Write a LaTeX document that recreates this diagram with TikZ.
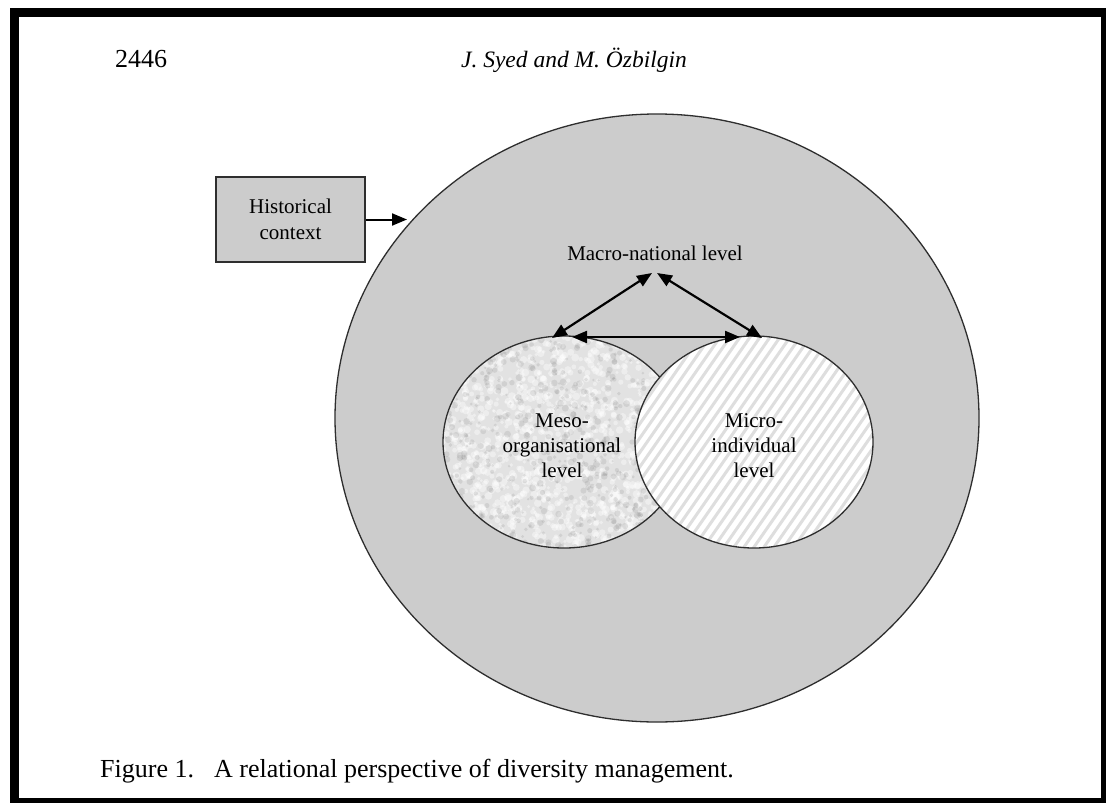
\documentclass[tikz,border=0pt]{standalone}
\usepackage{fontspec}
\setmainfont{Liberation Serif}
\usetikzlibrary{arrows.meta}

\definecolor{panel}{HTML}{CCCCCC}
\definecolor{edge}{HTML}{2E2E2E}
\definecolor{stripe}{HTML}{DEDEDE}
\definecolor{mottle}{HTML}{E2E2E2}

\tikzset{
  outline/.style={draw=edge, line width=1.3pt},
  link/.style={line width=2.2pt, {Triangle[length=15pt,width=12pt]}-{Triangle[length=15pt,width=12pt]}},
  push/.style={line width=2pt, -{Triangle[length=15pt,width=12pt]}},
  label/.style={inner sep=0pt, font=\fontsize{21}{25}\selectfont, align=center},
}

\begin{document}
\begin{tikzpicture}[x=1pt, y=-1pt]
  \useasboundingbox (0,0) rectangle (1106,803);

  % page frame
  \fill[black] (10,8) rectangle (1106,803);
  \fill[white] (19,17) rectangle (1101,798);

  % running head
  \node[anchor=base west, inner sep=0pt, font=\fontsize{26}{30}\selectfont] (page) at (115,67) {2446};
  \node[anchor=base, inner sep=0pt, font=\fontsize{23.5}{28}\selectfont\itshape] (authors) at (574,67) {J. Syed and M. Özbilgin};

  % outer macro circle
  \draw[outline, fill=panel] (657,418) ellipse [x radius=322, y radius=304];

  % meso ellipse with mottled texture
  \begin{scope}
    \clip (564,442) ellipse [x radius=121, y radius=106];
    \fill[mottle] (440,330) rectangle (690,555);
    \pgfmathsetseed{4217}
    \foreach \i in {1,...,1400} {
      \pgfmathsetmacro{\px}{564+125*rand}
      \pgfmathsetmacro{\py}{442+110*rand}
      \pgfmathsetmacro{\pr}{1.5+2.5*rnd}
      \fill[white, opacity=0.4] (\px,\py) circle [radius=\pr];
    }
    \foreach \i in {1,...,700} {
      \pgfmathsetmacro{\px}{564+125*rand}
      \pgfmathsetmacro{\py}{442+110*rand}
      \pgfmathsetmacro{\pr}{1.2+2.3*rnd}
      \fill[gray, opacity=0.18] (\px,\py) circle [radius=\pr];
    }
  \end{scope}
  \draw[outline] (564,442) ellipse [x radius=121, y radius=106];

  % micro ellipse with diagonal hatching
  \fill[white] (754,442) ellipse [x radius=119, y radius=106];
  \begin{scope}
    \clip (754,442) ellipse [x radius=119, y radius=106];
    \foreach \s in {-180,-170,...,250}
      \draw[stripe, line width=3pt] (635+\s,560) -- ++(160,-230);
  \end{scope}
  \draw[outline] (754,442) ellipse [x radius=119, y radius=106];

  % historical context box
  \node[draw=edge, line width=1.5pt, fill=panel, minimum width=149pt, minimum height=85pt,
        inner sep=0pt, font=\fontsize{21}{26}\selectfont, align=center] (hist) at (290.5,219.5)
        {Historical\\context};
  \coordinate (ring) at (407,219.5);
  \draw[push] (hist.east) -- (ring);

  % level labels
  \node[label, anchor=base] (macro) at (655,260) {Macro-national level};
  \node[label] (meso) at (562,446) {Meso-\\organisational\\level};
  \node[label] (micro) at (754,446) {Micro-\\individual\\level};

  % relations between the levels
  \coordinate (macroL) at (652,273);
  \coordinate (macroR) at (657,273);
  \coordinate (mesoTop) at (552,338);
  \coordinate (microTop) at (762,338);
  \coordinate (mesoSide) at (572,337);
  \coordinate (microSide) at (740,337);
  \draw[link] (mesoTop) -- (macroL);
  \draw[link] (macroR) -- (microTop);
  \draw[link] (mesoSide) -- (microSide);

  % caption
  \node[anchor=base west, inner sep=0pt, font=\fontsize{26}{30}\selectfont] (caption) at (100,777)
    {Figure 1.\hspace{20pt}A relational perspective of diversity management.};
\end{tikzpicture}
\end{document}
